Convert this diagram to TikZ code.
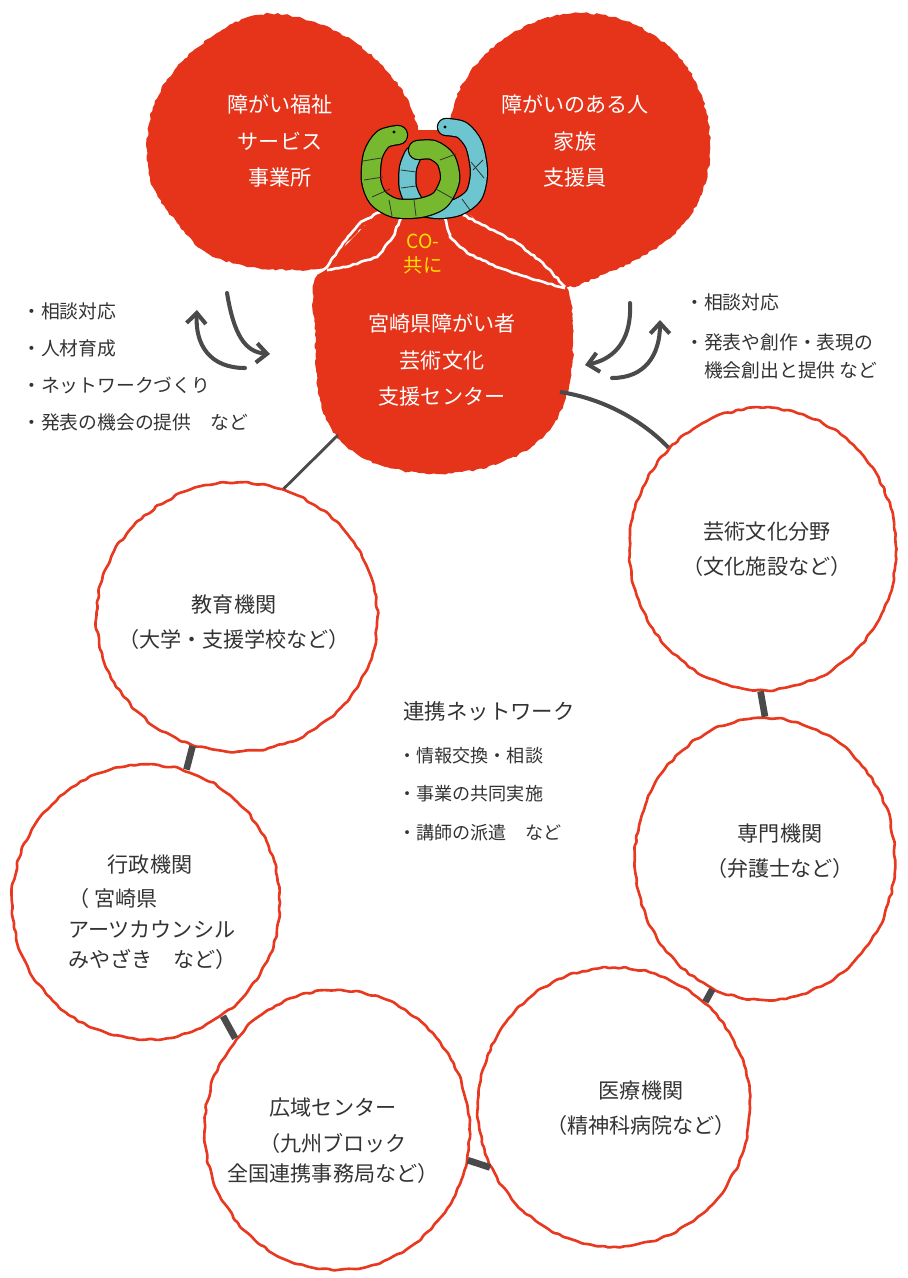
\documentclass[tikz,border=0pt]{standalone}
\usepackage{fontspec}
\setmainfont{Noto Sans CJK JP}
\usetikzlibrary{shapes.geometric,arrows.meta,decorations.pathmorphing}

\definecolor{petalred}{HTML}{E5341A}
\definecolor{ringred}{HTML}{E8381F}
\definecolor{wormgreen}{HTML}{76B82E}
\definecolor{wormblue}{HTML}{6CC5CF}
\definecolor{coyellow}{HTML}{FFE100}
\definecolor{linkgray}{HTML}{4A4A4A}
\definecolor{txtgray}{HTML}{333333}

\tikzset{
  petal/.style={fill=petalred, decorate,
    decoration={random steps,segment length=2pt,amplitude=0.6pt}},
  seam/.style={draw=white, line width=1.5pt, line join=round, decorate,
    decoration={random steps,segment length=2pt,amplitude=0.4pt}},
  worm/.style={draw=black, line width=0.7pt, double=#1,
    line cap=round, line join=round},
  crease/.style={draw=black!80, line width=0.45pt},
  orgring/.style={ellipse, draw=ringred, fill=white, line width=1.5pt,
    inner sep=0pt, rounded corners=0.8pt, decorate,
    decoration={random steps,segment length=3pt,amplitude=0.7pt}},
  linkbar/.style={draw=linkgray, line width=3.8pt},
  turnarrow/.style={draw=linkgray, line width=2.3pt, line cap=round,
    -{Straight Barb[length=6pt,width=11pt]}},
  petaltxt/.style={text=white, align=center, font=\fontsize{12}{21}\selectfont},
  ringtxt/.style={text=txtgray, align=center, font=\fontsize{12}{17.3}\selectfont},
  listtxt/.style={text=txtgray, anchor=west, inner sep=0pt, font=\fontsize{10.7}{12}\selectfont},
}

\begin{document}
\begin{tikzpicture}[x=0.02cm, y=-0.02cm]
\useasboundingbox (0,0) rectangle (908,1278);

% the three petals
\path[petal] plot[smooth cycle, tension=0.6] coordinates {(147,150) (153,107) (177,67) (217,33) (257,15) (297,17) (340,33) (373,57) (400,87) (413,113) (417,135) (405,175) (380,210) (350,240) (327,267) (290,270) (250,267) (207,253) (177,223) (153,187)};
\path[petal] plot[smooth cycle, tension=0.6] coordinates {(453,110) (463,83) (483,57) (507,37) (540,20) (573,13) (613,17) (650,33) (683,62) (703,100) (710,145) (703,190) (680,228) (645,255) (607,273) (567,287) (540,272) (510,250) (480,225) (458,200) (450,170) (447,135)};
\path[petal] plot[smooth cycle, tension=0.6] coordinates {(317,276) (360,262) (400,240) (440,235) (490,255) (540,278) (568,290) (573,340) (568,392) (545,435) (500,463) (440,474) (380,465) (340,440) (320,400) (315,335)};
\fill[petalred] (417,130) -- (447,130) -- (470,215) -- (567,288) -- (317,275) -- (385,205) -- cycle;

% white seams between the petals
\draw[seam] (383,210) -- (360,223) -- (343,243) -- (327,267) -- (315,274);
\draw[seam] (402,215) -- (393,237) -- (377,257) -- (350,266) -- (327,270);
\draw[seam] (445,218) -- (450,237) -- (467,253) -- (500,268) -- (535,280) -- (565,288);
\draw[seam] (463,215) -- (487,227) -- (517,243) -- (543,263) -- (565,287);

% the two worms
\draw[worm=wormblue, double distance=0.32cm] plot[smooth] coordinates {(446,127) (462,130) (474,145) (479,172) (474,195) (458,207) (437,210) (417,205) (408,188) (408,168) (413,155)};
\draw[crease] (401,170) -- (416,172);
\draw[crease] (401,188) -- (416,186);
\draw[crease] (471,162) -- (484,178);
\draw[crease] (473,170) -- (483,160);
\draw[crease] (462,199) -- (470,210);
\draw[worm=wormgreen, double distance=0.36cm] plot[smooth] coordinates {(398,135) (383,139) (373,155) (371,180) (378,198) (395,208) (420,208) (440,200) (450,180) (446,160) (433,150) (418,150)};
\draw[crease] (363,161) -- (381,158);
\draw[crease] (364,180) -- (383,177);
\draw[crease] (372,197) -- (390,189);
\draw[crease] (389,200) -- (392,216);
\draw[crease] (414,200) -- (416,216);
\draw[crease] (436,189) -- (452,198);
\draw[crease] (440,160) -- (456,154);
\fill (394,132) circle[radius=0.9pt];
\fill (445,127) circle[radius=0.9pt];

\node[text=coyellow, align=center, font=\fontsize{11}{14}\selectfont] (co) at (423,254) {CO-\\共に};

\node[petaltxt] (jigyo) at (280,141) {障がい福祉\\サービス\\事業所};
\node[petaltxt] (kazoku) at (575,141) {障がいのある人\\家族\\支援員};
\node[petaltxt] (hub) at (442,360) {宮崎県障がい者\\芸術文化\\支援センター};
\coordinate (hub-sw) at (338,435);
\coordinate (hub-e) at (560,392);

% roles beside the centre
\node[listtxt, align=left, font=\fontsize{10.7}{21}\selectfont] (roleL) at (22,367) {・相談対応\\・人材育成\\・ネットワークづくり\\・発表の機会の提供　など};
\node[listtxt] (roleR1) at (685,302) {・相談対応};
\node[listtxt, align=left, font=\fontsize{10.7}{16}\selectfont] (roleR2) at (685,356) {・発表や創作・表現の\\\hphantom{・}機会創出と提供 など};

\coordinate (a1s) at (227,293); \coordinate (a1e) at (270,354);
\coordinate (a2s) at (245,368); \coordinate (a2e) at (197,310);
\coordinate (b1s) at (630,303); \coordinate (b1e) at (585,365);
\coordinate (b2s) at (612,378); \coordinate (b2e) at (660,320);
\draw[turnarrow] (a1s) .. controls (234,335) and (245,352) .. (a1e);
\draw[turnarrow] (a2s) .. controls (210,368) and (195,345) .. (a2e);
\draw[turnarrow] (b1s) .. controls (632,345) and (610,360) .. (b1e);
\draw[turnarrow] (b2s) .. controls (645,378) and (660,355) .. (b2e);

% the network ring
\node[orgring, minimum width=5.62cm, minimum height=5.38cm] (kyoiku) at (237,617) {};
\node[orgring, minimum width=5.34cm, minimum height=5.64cm] (geijutsu) at (763,549) {};
\node[orgring, minimum width=5.36cm, minimum height=5.5cm] (gyosei) at (146,902) {};
\node[orgring, minimum width=5.2cm, minimum height=5.64cm] (senmon) at (765,859) {};
\node[orgring, minimum width=5.3cm, minimum height=5.6cm] (koiki) at (337,1130) {};
\node[orgring, minimum width=5.44cm, minimum height=5.58cm] (iryo) at (614,1107) {};

\draw[linkgray, line width=1.6pt] (hub-sw) -- (kyoiku.70);
\draw[linkgray, line width=2.3pt] (hub-e) .. controls (600,398) and (640,418) .. (geijutsu.133);
\draw[linkbar] (kyoiku.251) -- (gyosei.73);
\draw[linkbar] (geijutsu.269) -- (senmon.90);
\draw[linkbar] (gyosei.304) -- (koiki.138);
\draw[linkbar] (senmon.248) -- (iryo.49);
\draw[linkbar] (koiki.347) -- (iryo.206);

\node[ringtxt] (kyoiku-t) at (234,622) {教育機関\\[3pt]（大学・支援学校など）};
\node[ringtxt] (geijutsu-t) at (767,549) {芸術文化分野\\[3pt]（文化施設など）};
\node[ringtxt] (gyosei-t) at (150,864) {行政機関};
\node[ringtxt, align=left, anchor=west] (gyosei-u) at (62,929) {（ 宮崎県\\アーツカウンシル\\みやざき　など）};
\node[ringtxt] (senmon-t) at (780,851) {専門機関\\[3pt]（弁護士など）};
\node[ringtxt] (koiki-t) at (333,1141) {広域センター\\[3pt]（九州ブロック\\全国連携事務局など）};
\node[ringtxt] (iryo-t) at (641,1108) {医療機関\\[3pt]（精神科病院など）};

\node[listtxt, font=\fontsize{12.2}{14}\selectfont] (renkei) at (403,711) {連携ネットワーク};
\node[listtxt, align=left, font=\fontsize{10.3}{21.8}\selectfont] (renkeiL) at (398,794) {・情報交換・相談\\・事業の共同実施\\・講師の派遣　など};
\end{tikzpicture}
\end{document}
